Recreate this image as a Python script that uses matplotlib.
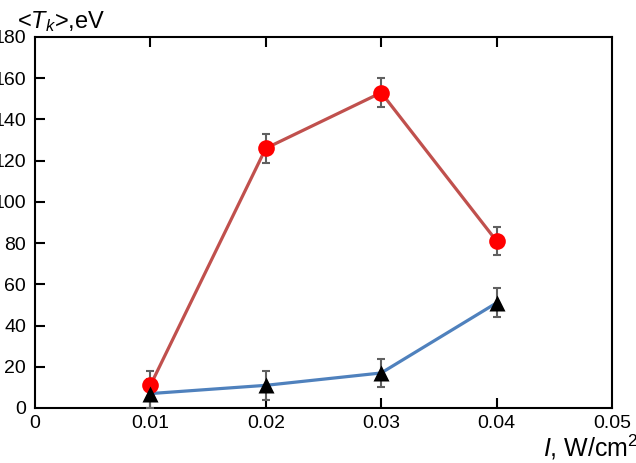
import numpy as np
import matplotlib
matplotlib.use("Agg")
import matplotlib.pyplot as plt

plt.rcParams['font.family'] = ['Liberation Sans', 'DejaVu Sans']
plt.rcParams['mathtext.fontset'] = 'custom'
plt.rcParams['mathtext.rm'] = 'Liberation Sans'
plt.rcParams['mathtext.it'] = 'Liberation Sans:italic'

# intensity, W/cm^2
intensity = [0.01, 0.02, 0.03, 0.04]
# mean kinetic energy, eV
red_vals = [11, 126, 153, 81]
red_err = [7, 7, 7, 7]
black_vals = [7, 11, 17, 51]
black_err = [7, 7, 7, 7]

x_ticks = [0, 0.01, 0.02, 0.03, 0.04, 0.05]
x_labels = ['0', '0.01', '0.02', '0.03', '0.04', '0.05']
y_ticks = [0, 20, 40, 60, 80, 100, 120, 140, 160, 180]

fig = plt.figure(figsize=(6.36, 4.63), dpi=100)
ax = fig.add_axes([35 / 636, 55 / 463, 577 / 636, 371 / 463])

# lines first, then error bars and markers on top
ax.plot(intensity, red_vals, color='#C0504D', lw=2.3, zorder=2)
ax.plot(intensity, black_vals, color='#4F81BD', lw=2.3, zorder=2)

ax.errorbar(intensity, red_vals, yerr=red_err, fmt='none', ecolor='#606060',
            elinewidth=1.5, capsize=3, capthick=1.5, zorder=3)
ax.errorbar(intensity, black_vals, yerr=black_err, fmt='none', ecolor='#606060',
            elinewidth=1.5, capsize=3, capthick=1.5, zorder=3)

ax.plot(intensity, red_vals, 'o', color='#FF0000', ms=12, mec='none', zorder=4)
ax.plot(intensity, black_vals, '^', color='black', ms=12, mec='none', zorder=4)

ax.set_xlim(0, 0.05)
ax.set_ylim(0, 180)
ax.set_xticks(x_ticks)
ax.set_xticklabels(x_labels)
ax.set_yticks(y_ticks)

for s in ax.spines.values():
    s.set_linewidth(1.5)
    s.set_color('black')

ax.tick_params(axis='both', direction='in', length=7.5, width=1.5, labelsize=14)
ax.tick_params(axis='x', top=True, pad=5)
# labels sit far enough left that the hundreds digit falls off the canvas, as in the original
ax.tick_params(axis='y', pad=6.5)
# no ticks at the corners
for t in (ax.xaxis.get_major_ticks()[0], ax.xaxis.get_major_ticks()[-1]):
    t.tick1line.set_visible(False)
    t.tick2line.set_visible(False)
ax.yaxis.get_major_ticks()[0].tick1line.set_visible(False)
ax.yaxis.get_major_ticks()[-1].tick1line.set_visible(False)

fig.text(17 / 636, 1 - 28 / 463, r'<$T_k$>,eV', fontsize=17, ha='left', va='baseline')
fig.text(543 / 636, 7 / 463, r'$I$, W/cm$^2$', fontsize=18, ha='left', va='baseline')

fig.savefig('out.png', dpi=100)
